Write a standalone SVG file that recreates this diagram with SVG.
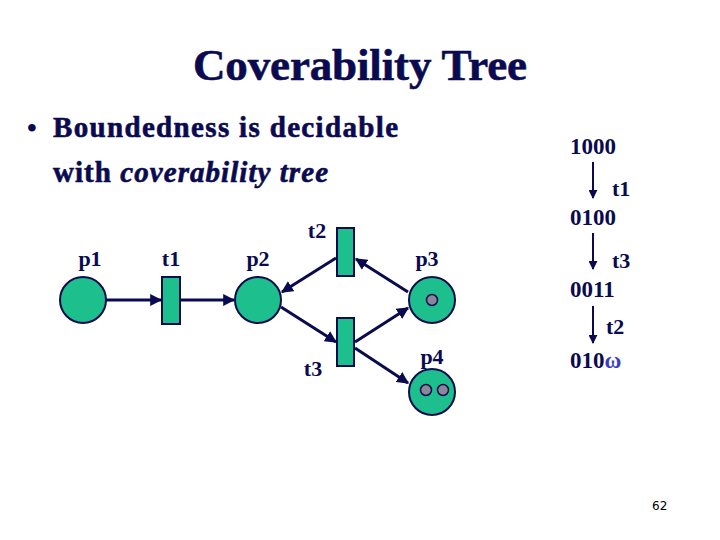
<svg xmlns="http://www.w3.org/2000/svg" width="720" height="540" viewBox="0 0 720 540">
<style>
text{font-family:"Liberation Serif","Times New Roman",serif;font-weight:bold;fill:#0a0a50}
.big{stroke:#0a0a50;stroke-width:0.6}
.lbl{font-size:22px}
.st{font-size:23px}
.place{fill:#1dc08c;stroke:#0a0a50;stroke-width:2}
.trans{fill:#1dc08c;stroke:#0a0a50;stroke-width:2}
.tok{fill:#888899;stroke:#0a0a50;stroke-width:1.5}
.arc{stroke:#0a0a50;stroke-width:3;fill:none;marker-end:url(#ah)}
.tarc{stroke:#0a0a50;stroke-width:2;fill:none;marker-end:url(#ah2)}
</style>
<defs>
<marker id="ah" viewBox="0 0 10 10" refX="9" refY="5" markerWidth="4" markerHeight="4" orient="auto" markerUnits="strokeWidth"><path d="M0,0 L10,5 L0,10 z" fill="#0a0a50"/></marker>
<marker id="ah2" viewBox="0 0 10 10" refX="9" refY="5" markerWidth="4.5" markerHeight="4.5" orient="auto" markerUnits="strokeWidth"><path d="M0,0 L10,5 L0,10 z" fill="#0a0a50"/></marker>
</defs>
<rect width="720" height="540" fill="#ffffff"/>
<text class="big" x="193" y="80" textLength="334" style="font-size:45px">Coverability Tree</text>
<text x="27" y="137" style="font-size:28px">•</text>
<text class="big" x="53" y="137" textLength="345" style="font-size:29px">Boundedness is decidable</text>
<text class="big" x="53" y="182" textLength="275" style="font-size:29px">with <tspan font-style="italic">coverability tree</tspan></text>

<g id="connectors">
<line class="arc" x1="106" y1="300" x2="161" y2="300"/>
<line class="arc" x1="180" y1="300" x2="234" y2="300"/>
<line class="arc" x1="408" y1="292" x2="356" y2="259"/>
<line class="arc" x1="336" y1="258" x2="282" y2="292"/>
<line class="arc" x1="281" y1="307" x2="336" y2="342"/>
<line class="arc" x1="355" y1="342" x2="408" y2="308"/>
<line class="arc" x1="355" y1="348" x2="408" y2="383"/>
<line class="tarc" x1="593" y1="162" x2="593" y2="198"/>
<line class="tarc" x1="593" y1="233" x2="593" y2="269"/>
<line class="tarc" x1="593" y1="306" x2="593" y2="343"/>
</g>

<g id="p1"><circle class="place" cx="83" cy="300" r="23"/><text class="lbl" x="90" y="266" text-anchor="middle">p1</text></g>
<g id="t1"><rect class="trans" x="162" y="277" width="18" height="47"/><text class="lbl" x="171" y="266" text-anchor="middle">t1</text></g>
<g id="p2"><circle class="place" cx="258" cy="300" r="23"/><text class="lbl" x="258" y="266" text-anchor="middle">p2</text></g>
<g id="t2"><rect class="trans" x="337" y="228" width="17" height="48"/><text class="lbl" x="317" y="238" text-anchor="middle">t2</text></g>
<g id="t3"><rect class="trans" x="337" y="318" width="17" height="48"/><text class="lbl" x="313" y="376" text-anchor="middle">t3</text></g>
<g id="p3"><circle class="place" cx="432" cy="300" r="23"/><circle class="tok" cx="432" cy="300" r="5.5"/><text class="lbl" x="427" y="266" text-anchor="middle">p3</text></g>
<g id="p4"><circle class="place" cx="432" cy="392" r="23"/><circle class="tok" cx="426" cy="390" r="5.5"/><circle class="tok" cx="443" cy="390" r="5.5"/><text class="lbl" x="432" y="364" text-anchor="middle">p4</text></g>

<g id="tree">
<text class="st" x="570" y="154">1000</text>
<text class="lbl" x="612" y="196">t1</text>
<text class="st" x="570" y="225">0100</text>
<text class="lbl" x="612" y="268">t3</text>
<text class="st" x="570" y="297">0011</text>
<text class="lbl" x="606" y="334">t2</text>
<text class="st" x="570" y="368">010<tspan style="fill:#3a3ac8">ω</tspan></text>
</g>
<text x="652" y="510" style="font-family:'DejaVu Sans',sans-serif;font-weight:normal;font-size:12px;fill:#000">62</text>
</svg>
